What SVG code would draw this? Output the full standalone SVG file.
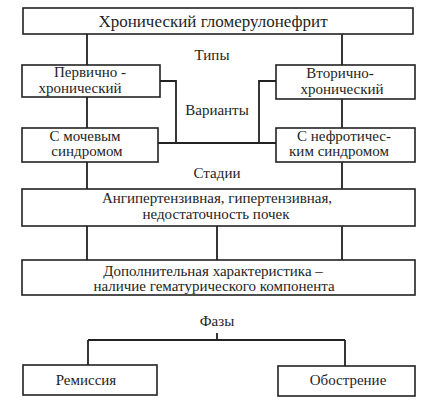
<svg xmlns="http://www.w3.org/2000/svg" width="427" height="404" viewBox="0 0 427 404" font-family="Liberation Serif, Times New Roman, serif">
<style>
.box{fill:#fff;stroke:#222;stroke-width:1.6}
.ln{fill:none;stroke:#222;stroke-width:1.8}
text{font-size:15px;fill:#1e1e1e;text-anchor:middle}
.t{font-size:17px}
</style>
<rect width="427" height="404" fill="#fff"/>
<g id="connectors">
<path class="ln" d="M87 34V65M342 34V65"/>
<path class="ln" d="M160 81H176V143M276 81H259V143M158 143H276"/>
<path class="ln" d="M87 97V128M342 99V128"/>
<path class="ln" d="M87 162V189M342 162V189"/>
<path class="ln" d="M87 226V260M217 226V260M342 226V260"/>
<path class="ln" d="M217 333V340M88 340H345M88 340V365M345 340V366"/>
</g>
<g id="labels">
<text x="212" y="60">Типы</text>
<text x="217" y="115">Варианты</text>
<text x="217" y="178">Стадии</text>
<text x="217" y="326">Фазы</text>
</g>
<g id="n-title"><rect class="box" x="23" y="8" width="390" height="26"/><text class="t" x="213" y="27">Хронический гломерулонефрит</text></g>
<g id="n-primary"><rect class="box" x="22" y="65" width="138" height="32"/><text x="90" y="77">Первично -</text><text x="80" y="93">хронический</text></g>
<g id="n-secondary"><rect class="box" x="276" y="65" width="139" height="34"/><text x="340" y="78">Вторично-</text><text x="342" y="94">хронический</text></g>
<g id="n-urinary"><rect class="box" x="22" y="128" width="136" height="34"/><text x="85" y="141">С мочевым</text><text x="87" y="156">синдромом</text></g>
<g id="n-nephrotic"><rect class="box" x="276" y="128" width="139" height="34"/><text x="344" y="141">С нефротичес-</text><text x="339" y="156">ким синдромом</text></g>
<g id="n-stages"><rect class="box" x="22" y="189" width="393" height="37"/><text x="217" y="203">Ангипертензивная, гипертензивная,</text><text x="216" y="219">недостаточность почек</text></g>
<g id="n-extra"><rect class="box" x="22" y="260" width="393" height="35"/><text x="213" y="276">Дополнительная характеристика –</text><text x="214" y="291">наличие гематурического компонента</text></g>
<g id="n-remission"><rect class="box" x="23" y="365" width="134" height="30"/><text x="86" y="385">Ремиссия</text></g>
<g id="n-exacerbation"><rect class="box" x="278" y="366" width="137" height="30"/><text x="348" y="385">Обострение</text></g>
</svg>
